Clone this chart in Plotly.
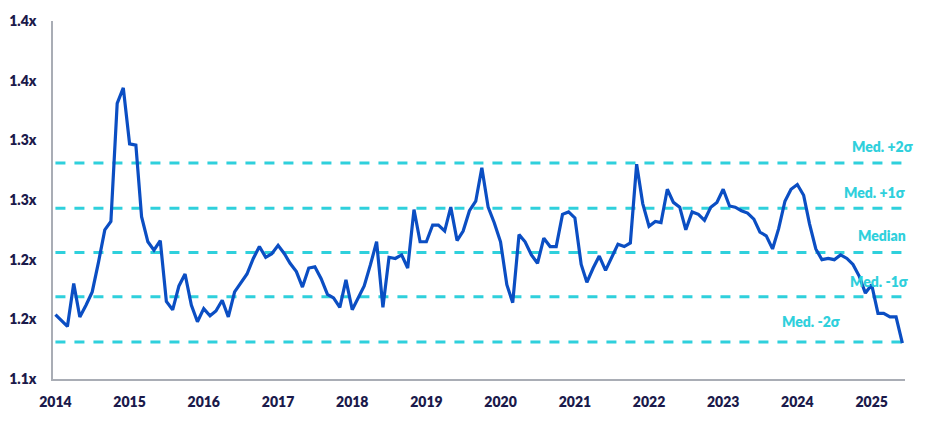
import pandas as pd
import plotly.graph_objects as go

# monthly multiple, Jan 2014 - Jun 2025
multiple = [
    1.154, 1.149, 1.144, 1.180, 1.152, 1.162, 1.173, 1.198, 1.225, 1.232, 1.331, 1.344,  # 2014
    1.297, 1.296, 1.236, 1.215, 1.208, 1.216, 1.165, 1.158, 1.178, 1.188, 1.162, 1.148,  # 2015
    1.159, 1.153, 1.157, 1.166, 1.152, 1.173, 1.180, 1.188, 1.201, 1.211, 1.202, 1.205,  # 2016
    1.212, 1.205, 1.197, 1.190, 1.177, 1.193, 1.194, 1.184, 1.171, 1.168, 1.160, 1.183,  # 2017
    1.158, 1.168, 1.178, 1.196, 1.215, 1.160, 1.202, 1.201, 1.204, 1.193, 1.242, 1.215,  # 2018
    1.215, 1.229, 1.229, 1.224, 1.244, 1.216, 1.224, 1.241, 1.249, 1.277, 1.244, 1.231,  # 2019
    1.215, 1.179, 1.164, 1.221, 1.215, 1.204, 1.197, 1.218, 1.211, 1.211, 1.238, 1.240,  # 2020
    1.235, 1.196, 1.181, 1.193, 1.203, 1.191, 1.202, 1.213, 1.211, 1.214, 1.280, 1.247,  # 2021
    1.228, 1.232, 1.231, 1.259, 1.248, 1.244, 1.225, 1.240, 1.238, 1.233, 1.244, 1.248,  # 2022
    1.259, 1.245, 1.244, 1.241, 1.239, 1.234, 1.223, 1.220, 1.209, 1.226, 1.249, 1.259,  # 2023
    1.263, 1.254, 1.230, 1.209, 1.200, 1.201, 1.200, 1.204, 1.201, 1.196, 1.186, 1.172,  # 2024
    1.179, 1.155, 1.155, 1.152, 1.152, 1.130,                                            # 2025
]
dates = pd.date_range("2014-01-01", periods=len(multiple), freq="MS")

band_names = ["Med. +2σ", "Med. +1σ", "Median", "Med. -1σ", "Med. -2σ"]
band_levels = [1.281, 1.243, 1.206, 1.169, 1.131]

y_ticks = [1.10, 1.15, 1.20, 1.25, 1.30, 1.35, 1.40]
y_tick_labels = ["1.1x", "1.2x", "1.2x", "1.3x", "1.3x", "1.4x", "1.4x"]

NAVY = "#1b1a4b"
CYAN = "#2fd0dc"
BLUE = "#0b4ec3"
TICK_FONT = dict(family="Lato", size=14, color=NAVY, weight=800)

fig = go.Figure()

for name, level in zip(band_names, band_levels):
    fig.add_trace(go.Scatter(
        x=[dates[0], dates[-1]], y=[level, level], mode="lines",
        line=dict(color=CYAN, width=3, dash="10px,9px"),
        hoverinfo="skip", showlegend=False, name=name,
    ))

fig.add_trace(go.Scatter(
    x=dates, y=multiple, mode="lines",
    line=dict(color=BLUE, width=3.2),
    showlegend=False, name="Multiple",
))

# label placement (paper x, data y) for each band
label_pos = [(1.012, 1.295), (1.002, 1.2567), (1.004, 1.220), (1.006, 1.1817), (0.926, 1.148)]
for name, (px, py) in zip(band_names, label_pos):
    fig.add_annotation(
        x=px, y=py, xref="paper", yref="y", text=name, showarrow=False,
        xanchor="right", yanchor="middle",
        font=dict(family="Lato", size=14, color=CYAN, weight=800),
    )

# page body adds an 8px offset, so the figure is sized 8px smaller
fig.update_layout(
    width=924, height=414,
    margin=dict(l=45, r=27, t=13, b=43),
    paper_bgcolor="white", plot_bgcolor="white",
    font=TICK_FONT,
)
fig.update_xaxes(
    range=["2013-12-20", "2025-06-14"],
    tick0="2014-01-01", dtick="M12", tickformat="%Y",
    showgrid=False, zeroline=False, automargin=False,
    showline=True, linecolor="#a9adb5", linewidth=1.5,
    ticks="outside", ticklen=9, tickcolor="rgba(0,0,0,0)",
    tickfont=TICK_FONT,
)
fig.update_yaxes(
    range=[1.10, 1.40],
    tickvals=y_ticks, ticktext=y_tick_labels,
    showgrid=False, zeroline=False, automargin=False,
    showline=True, linecolor="#a9adb5", linewidth=1.5,
    ticks="outside", ticklen=12, tickcolor="rgba(0,0,0,0)",
    tickfont=TICK_FONT,
)

fig.write_html("out.html")
